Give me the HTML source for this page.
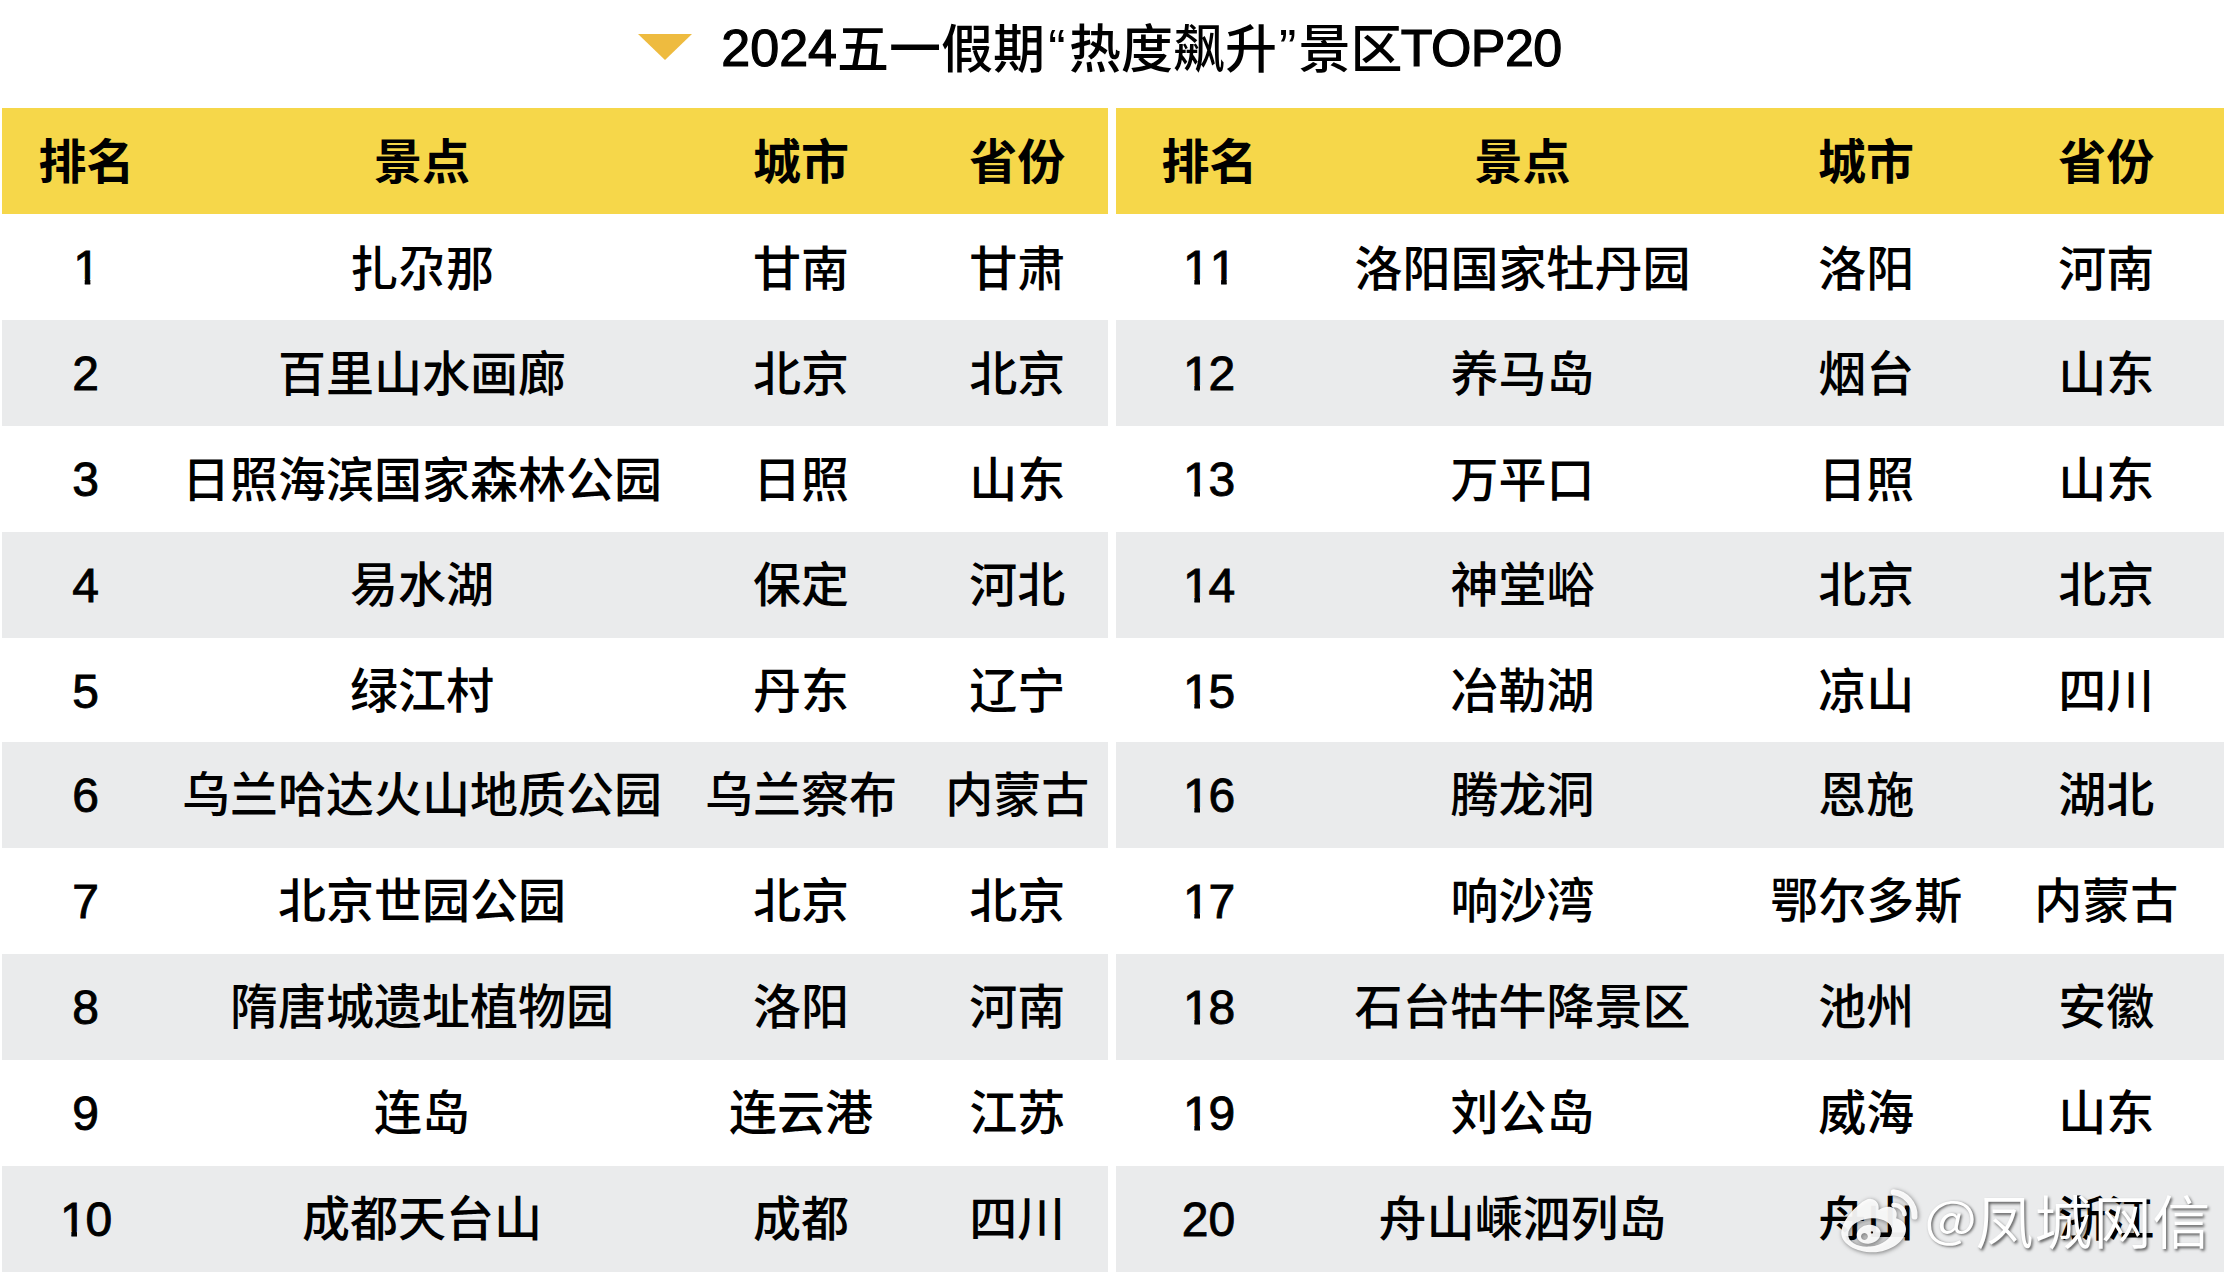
<!DOCTYPE html><html lang="zh-CN"><head><meta charset="utf-8"><title>2024五一假期“热度飙升”景区TOP20</title><style>
*{margin:0;padding:0;box-sizing:border-box}
html,body{width:2228px;height:1276px;background:#fff;overflow:hidden}
body{position:relative;font-family:"Liberation Sans","Noto Sans CJK SC",sans-serif;color:#000}
.bar{position:absolute}
.hd{background:#f6d74a}
.ev{background:#eaebec}
.c{position:absolute;width:600px;margin-left:-300px;height:106px;line-height:106px;text-align:center;font-size:48px;font-weight:500;white-space:nowrap}
.h{font-weight:700}
.n{font-family:"Liberation Sans",sans-serif;font-weight:400;-webkit-text-stroke:0.9px #000}
.n .o{display:inline-block;position:relative;left:1.2px;line-height:1;clip-path:polygon(0 0,100% 0,100% 35.2px,17px 35.2px,17px 100%,11.4px 100%,11.4px 35.2px,0 35.2px)}
#title{position:absolute;left:721.3px;top:0;height:96px;line-height:96px;font-size:52px;font-weight:500;white-space:nowrap}
#title .l{font-weight:400;-webkit-text-stroke:1.2px #000}
#title .q{display:inline-block;width:24px;text-align:center}
#title .q.r{width:21.5px}
#title .z{position:relative;top:1.5px}
#title .l.t{margin-left:-1.8px;letter-spacing:-0.6px}
#tri{position:absolute;left:638px;top:34px;width:54px;height:26px}
#wm{position:absolute;left:1975.5px;top:1177px;height:84px;line-height:84px;font-size:58px;font-weight:350;color:#fff;white-space:nowrap;font-family:"Noto Sans CJK SC",sans-serif;letter-spacing:1px;text-shadow:1.5px 1.5px 3px rgba(0,0,0,.6)}
#wa{position:absolute;left:1922.7px;top:1173px;width:56px;height:84px;line-height:84px;text-align:center;font-size:56px;font-weight:350;color:#fff;font-family:"Noto Sans CJK SC",sans-serif;text-shadow:1.5px 1.5px 3px rgba(0,0,0,.6);transform:scale(1,.9)}
#wb{position:absolute;left:1836px;top:1184px;width:90px;height:76px;overflow:visible;filter:drop-shadow(1.5px 1.5px 2px rgba(0,0,0,.5))}
</style></head><body>
<svg id="tri" viewBox="0 0 54 26"><polygon points="0,0 54,0 27,26" fill="#eebb3f"/></svg>
<div id="title"><span class="l">2024</span><span class="z">五一假期</span><span class="q">“</span><span class="z">热度飙升</span><span class="q r">”</span><span class="z">景区</span><span class="l t">TOP20</span></div>
<div class="bar hd" style="left:2px;width:1106px;top:108px;height:106px"></div>
<div class="bar hd" style="left:1116px;width:1108px;top:108px;height:106px"></div>
<div class="bar ev" style="left:2px;width:1106px;top:320px;height:106px"></div>
<div class="bar ev" style="left:1116px;width:1108px;top:320px;height:106px"></div>
<div class="bar ev" style="left:2px;width:1106px;top:532px;height:106px"></div>
<div class="bar ev" style="left:1116px;width:1108px;top:532px;height:106px"></div>
<div class="bar ev" style="left:2px;width:1106px;top:742px;height:106px"></div>
<div class="bar ev" style="left:1116px;width:1108px;top:742px;height:106px"></div>
<div class="bar ev" style="left:2px;width:1106px;top:954px;height:106px"></div>
<div class="bar ev" style="left:1116px;width:1108px;top:954px;height:106px"></div>
<div class="bar ev" style="left:2px;width:1106px;top:1166px;height:106px"></div>
<div class="bar ev" style="left:1116px;width:1108px;top:1166px;height:106px"></div>
<div class="c h" style="left:86.5px;top:109.7px">排名</div>
<div class="c h" style="left:422px;top:109.7px">景点</div>
<div class="c h" style="left:801px;top:109.7px">城市</div>
<div class="c h" style="left:1017.2px;top:109.7px">省份</div>
<div class="c h" style="left:1209.5px;top:109.7px">排名</div>
<div class="c h" style="left:1522.5px;top:109.7px">景点</div>
<div class="c h" style="left:1866px;top:109.7px">城市</div>
<div class="c h" style="left:2106.3px;top:109.7px">省份</div>
<div class="c n" style="left:85.5px;top:215px"><span class="o">1</span></div>
<div class="c" style="left:422px;top:216.5px">扎尕那</div>
<div class="c" style="left:801px;top:216.5px">甘南</div>
<div class="c" style="left:1017.2px;top:216.5px">甘肃</div>
<div class="c n" style="left:85.5px;top:321px">2</div>
<div class="c" style="left:422px;top:321.5px">百里山水画廊</div>
<div class="c" style="left:801px;top:321.5px">北京</div>
<div class="c" style="left:1017.2px;top:321.5px">北京</div>
<div class="c n" style="left:85.5px;top:427px">3</div>
<div class="c" style="left:422px;top:427.5px">日照海滨国家森林公园</div>
<div class="c" style="left:801px;top:427.5px">日照</div>
<div class="c" style="left:1017.2px;top:427.5px">山东</div>
<div class="c n" style="left:85.5px;top:533px">4</div>
<div class="c" style="left:422px;top:533px">易水湖</div>
<div class="c" style="left:801px;top:533px">保定</div>
<div class="c" style="left:1017.2px;top:533px">河北</div>
<div class="c n" style="left:85.5px;top:639px">5</div>
<div class="c" style="left:422px;top:639px">绿江村</div>
<div class="c" style="left:801px;top:639px">丹东</div>
<div class="c" style="left:1017.2px;top:639px">辽宁</div>
<div class="c n" style="left:85.5px;top:743px">6</div>
<div class="c" style="left:422px;top:743px">乌兰哈达火山地质公园</div>
<div class="c" style="left:801px;top:743px">乌兰察布</div>
<div class="c" style="left:1017.2px;top:743px">内蒙古</div>
<div class="c n" style="left:85.5px;top:849px">7</div>
<div class="c" style="left:422px;top:849px">北京世园公园</div>
<div class="c" style="left:801px;top:849px">北京</div>
<div class="c" style="left:1017.2px;top:849px">北京</div>
<div class="c n" style="left:85.5px;top:955px">8</div>
<div class="c" style="left:422px;top:955px">隋唐城遗址植物园</div>
<div class="c" style="left:801px;top:955px">洛阳</div>
<div class="c" style="left:1017.2px;top:955px">河南</div>
<div class="c n" style="left:85.5px;top:1061px">9</div>
<div class="c" style="left:422px;top:1061px">连岛</div>
<div class="c" style="left:801px;top:1061px">连云港</div>
<div class="c" style="left:1017.2px;top:1061px">江苏</div>
<div class="c n" style="left:85.5px;top:1167px"><span class="o">1</span>0</div>
<div class="c" style="left:422px;top:1167px">成都天台山</div>
<div class="c" style="left:801px;top:1167px">成都</div>
<div class="c" style="left:1017.2px;top:1167px">四川</div>
<div class="c n" style="left:1208.5px;top:215px"><span class="o">1</span><span class="o">1</span></div>
<div class="c" style="left:1522.5px;top:216.5px">洛阳国家牡丹园</div>
<div class="c" style="left:1866.2px;top:216.5px">洛阳</div>
<div class="c" style="left:2106.3px;top:216.5px">河南</div>
<div class="c n" style="left:1208.5px;top:321px"><span class="o">1</span>2</div>
<div class="c" style="left:1522.5px;top:321.5px">养马岛</div>
<div class="c" style="left:1866.2px;top:321.5px">烟台</div>
<div class="c" style="left:2106.3px;top:321.5px">山东</div>
<div class="c n" style="left:1208.5px;top:427px"><span class="o">1</span>3</div>
<div class="c" style="left:1522.5px;top:427.5px">万平口</div>
<div class="c" style="left:1866.2px;top:427.5px">日照</div>
<div class="c" style="left:2106.3px;top:427.5px">山东</div>
<div class="c n" style="left:1208.5px;top:533px"><span class="o">1</span>4</div>
<div class="c" style="left:1522.5px;top:533px">神堂峪</div>
<div class="c" style="left:1866.2px;top:533px">北京</div>
<div class="c" style="left:2106.3px;top:533px">北京</div>
<div class="c n" style="left:1208.5px;top:639px"><span class="o">1</span>5</div>
<div class="c" style="left:1522.5px;top:639px">冶勒湖</div>
<div class="c" style="left:1866.2px;top:639px">凉山</div>
<div class="c" style="left:2106.3px;top:639px">四川</div>
<div class="c n" style="left:1208.5px;top:743px"><span class="o">1</span>6</div>
<div class="c" style="left:1522.5px;top:743px">腾龙洞</div>
<div class="c" style="left:1866.2px;top:743px">恩施</div>
<div class="c" style="left:2106.3px;top:743px">湖北</div>
<div class="c n" style="left:1208.5px;top:849px"><span class="o">1</span>7</div>
<div class="c" style="left:1522.5px;top:849px">响沙湾</div>
<div class="c" style="left:1866.2px;top:849px">鄂尔多斯</div>
<div class="c" style="left:2106.3px;top:849px">内蒙古</div>
<div class="c n" style="left:1208.5px;top:955px"><span class="o">1</span>8</div>
<div class="c" style="left:1522.5px;top:955px">石台牯牛降景区</div>
<div class="c" style="left:1866.2px;top:955px">池州</div>
<div class="c" style="left:2106.3px;top:955px">安徽</div>
<div class="c n" style="left:1208.5px;top:1061px"><span class="o">1</span>9</div>
<div class="c" style="left:1522.5px;top:1061px">刘公岛</div>
<div class="c" style="left:1866.2px;top:1061px">威海</div>
<div class="c" style="left:2106.3px;top:1061px">山东</div>
<div class="c n" style="left:1208.5px;top:1167px">20</div>
<div class="c" style="left:1522.5px;top:1167px">舟山嵊泗列岛</div>
<div class="c" style="left:1866.2px;top:1167px">舟山</div>
<div class="c" style="left:2106.3px;top:1167px">浙江</div>
<svg id="wb" viewBox="0 0 90 76"><path fill="#000" fill-opacity=".08" d="M34.1,34.3 C46.2,33.2 56,38.6 56,46.4 C56,54.2 46.2,61.4 34.1,62.5 C22,63.6 12.2,58.2 12.2,50.4 C12.2,42.6 22,35.4 34.1,34.3 Z"/><g fill="#fff" fill-opacity=".92">
<path fill-rule="evenodd" d="M5.2,48.4 C6,38 15,27 23.5,20.2 C28,16.5 32,14.5 34.8,14.9 C40,15.5 43.5,19 42.6,25.9 C47,23.5 51,22.3 54.5,23 C59.5,24 62,28 60.2,34.3 C66,36 70,40 70,44.9 C70,57 54,68.2 36.9,68.2 C20,68.2 5.2,60 5.2,48.4 Z
M34.1,34.3 C46.2,33.2 56,38.6 56,46.4 C56,54.2 46.2,61.4 34.1,62.5 C22,63.6 12.2,58.2 12.2,50.4 C12.2,42.6 22,35.4 34.1,34.3 Z
M32.7,40.7 C39.3,40.2 44.7,44 44.7,49.3 C44.7,54.5 39.3,59.2 32.7,59.7 C26.1,60.2 20.7,56.4 20.7,51.1 C20.7,45.9 26.1,41.2 32.7,40.7 Z
M28.4,49.1 a3.4,3.4 0 1,0 0.01,0 Z M35.9,47.2 a1.2,1.2 0 1,0 0.01,0 Z"/>
<path fill="none" stroke="#fff" stroke-opacity=".92" stroke-width="4.6" stroke-linecap="round" d="M57.5,21.1 A10.1,10.1 0 0 1 68.5,30.3"/>
<path fill="none" stroke="#fff" stroke-opacity=".92" stroke-width="6" stroke-linecap="round" d="M57.7,8.3 A23.3,23.3 0 0 1 78.5,32.5"/>
</g></svg>
<div id="wa">@</div><div id="wm">凤城网信</div>
</body></html>
